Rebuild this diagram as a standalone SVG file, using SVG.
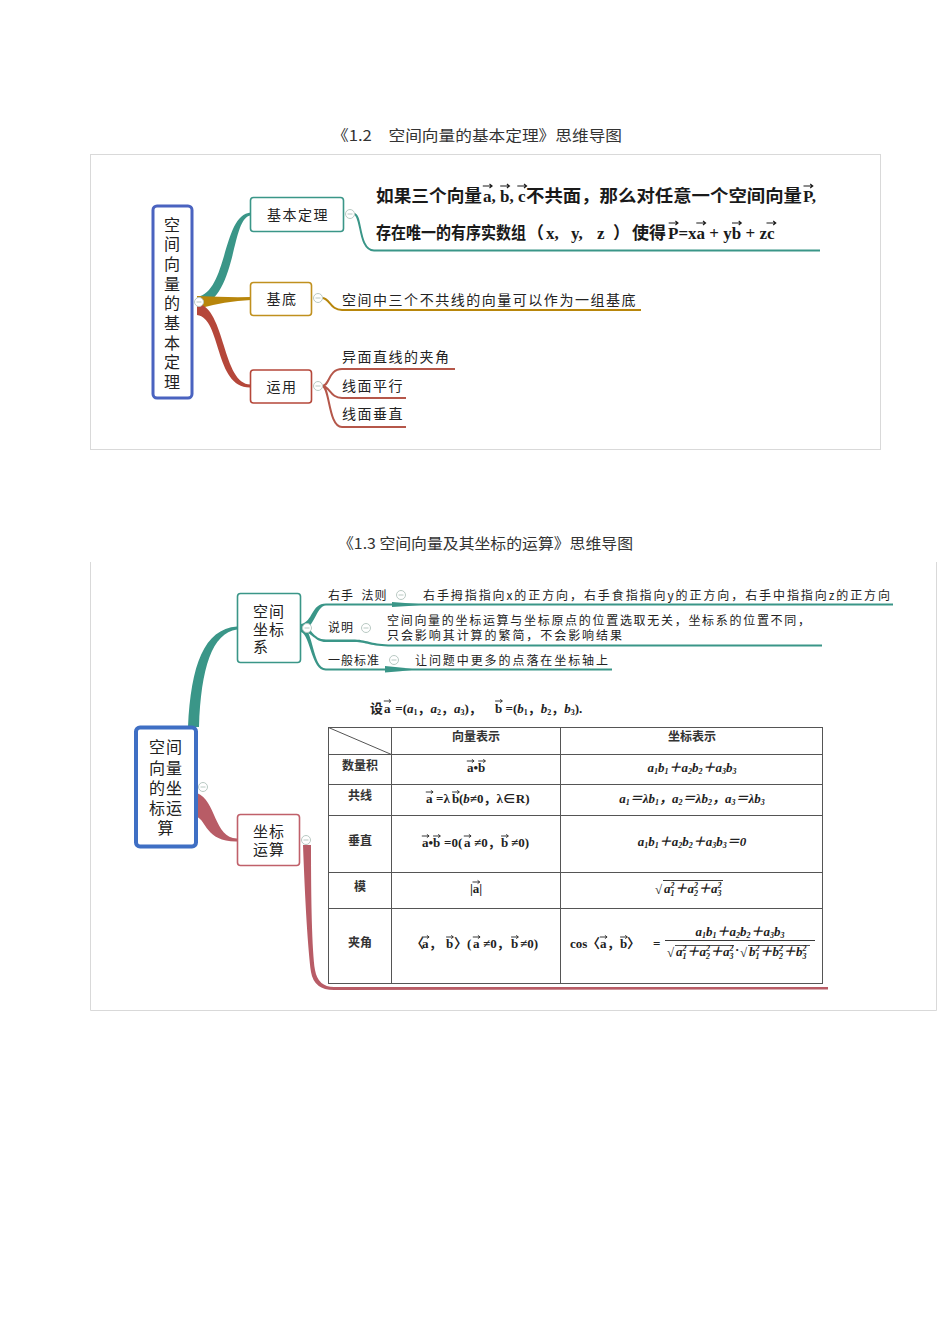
<svg xmlns="http://www.w3.org/2000/svg" width="950" height="1344" viewBox="0 0 950 1344">
<style>
.cn{font-family:"Noto Sans CJK SC","Noto Sans",sans-serif;fill:#222}
.tt{font-family:"Noto Sans CJK SC",sans-serif;font-size:15px;fill:#333}
.n14{font-size:14px;letter-spacing:1.5px}
.n15{font-size:15px;letter-spacing:1px}
.n16{font-size:16px}
.sm{font-size:12px}
.btn{fill:#fff;stroke:#b9c9c3;stroke-width:1}
.big{font-family:"Liberation Serif","Noto Sans CJK SC",serif;font-weight:bold;font-size:17px;fill:#1a1a1a}
.tb{font-family:"Liberation Serif","Noto Sans CJK SC",serif;font-weight:bold;font-size:13px;fill:#222}
.it{font-style:italic}
.s{font-size:8px}
.th{font-family:"Noto Sans CJK SC",sans-serif;font-weight:bold;font-size:12px;fill:#333}
.grid{stroke:#555;stroke-width:1;fill:none}
.frame{fill:none;stroke:#d9d9d9;stroke-width:1}
</style>
<defs>
<g id="btn"><circle r="4.5" class="btn"/><path d="M-2.5,0H2.5" stroke="#b9c9c3" stroke-width="1"/></g>
<path id="va" d="M-3.5,0H3.5M1.6,-1.6L3.8,0L1.6,1.6" fill="none" stroke="#222" stroke-width="0.9"/>
<path id="vb" d="M-4.5,0H4.5M2.2,-2L4.8,0L2.2,2" fill="none" stroke="#1a1a1a" stroke-width="1.1"/>
</defs>
<rect width="950" height="1344" fill="#fff"/>

<!-- ===== Diagram 1 ===== -->
<text class="tt" x="332" y="141" textLength="290" lengthAdjust="spacingAndGlyphs">《1.2　空间向量的基本定理》思维导图</text>
<rect class="frame" x="90.5" y="154.5" width="790" height="295"/>

<g id="connectors1">
<path d="M197,297 C228,292 222,214 251,212.5 L251,215.5 C230,217 238,300 197,307 Z" fill="#3a9688"/>
<path d="M197,296 Q225,297.5 251,297 L251,300 Q225,301 197,309 Z" fill="#b8860b"/>
<path d="M197,303 C226,308 222,385 251,384.5 L251,387.5 C214,389 222,318 197,315 Z" fill="#b5473a"/>
<path d="M354,214 C362,214 358,250.5 374,250.5 H820" fill="none" stroke="#3a9688" stroke-width="2"/>
<path d="M322,298 C330,298 330,310 342,310 H641" fill="none" stroke="#b8860b" stroke-width="2"/>
<path d="M322,386 C330,386 328,369 342,369 H455 M322,386 C330,386 330,398 342,398 H406 M322,386 C330,386 328,427 342,427 H406" fill="none" stroke="#b5574a" stroke-width="2"/>
<use href="#btn" x="199" y="302"/>
<use href="#btn" x="350" y="214"/>
<use href="#btn" x="318" y="298"/>
<use href="#btn" x="318" y="386"/>
</g>

<g id="root1">
<rect x="153" y="206" width="39" height="192" rx="4" fill="#fff" stroke="#4a63c0" stroke-width="3"/>
<text class="cn n16" text-anchor="middle"><tspan x="172" y="230.5">空</tspan><tspan x="172" y="250.2">间</tspan><tspan x="172" y="269.9">向</tspan><tspan x="172" y="289.6">量</tspan><tspan x="172" y="309.3">的</tspan><tspan x="172" y="329">基</tspan><tspan x="172" y="348.7">本</tspan><tspan x="172" y="368.4">定</tspan><tspan x="172" y="388.1">理</tspan></text>
</g>

<g id="node-jbdl">
<rect x="250.5" y="197.5" width="93" height="34" rx="3" fill="#fff" stroke="#3a9688" stroke-width="1.6"/>
<text class="cn n14" x="298" y="220" text-anchor="middle">基本定理</text>
</g>
<g id="node-jbdl-text">
<text class="big" x="376" y="202" textLength="106" lengthAdjust="spacingAndGlyphs">如果三个向量</text>
<text class="big" x="483" y="202">a, b, c</text>
<text class="big" x="526" y="202" textLength="276" lengthAdjust="spacingAndGlyphs">不共面，那么对任意一个空间向量</text>
<text class="big" x="803" y="202">P,</text>
<use href="#vb" x="487.3" y="186"/><use href="#vb" x="504.7" y="186"/><use href="#vb" x="521.8" y="186"/><use href="#vb" x="808" y="186"/>
<text class="big" x="376" y="239" textLength="150" lengthAdjust="spacingAndGlyphs">存在唯一的有序实数组</text>
<text class="big" y="239"><tspan x="527">（</tspan><tspan x="546">x,</tspan><tspan x="571">y,</tspan><tspan x="597">z</tspan><tspan x="613">）</tspan></text>
<text class="big" x="632" y="239" textLength="34" lengthAdjust="spacingAndGlyphs">使得</text>
<text class="big" x="668" y="239" xml:space="preserve">P=xa + yb + zc</text>
<use href="#vb" x="673.2" y="223"/><use href="#vb" x="700.8" y="223"/><use href="#vb" x="736.5" y="223"/><use href="#vb" x="771" y="223"/>
</g>

<g id="node-jd">
<rect x="250.5" y="282.5" width="61" height="33" rx="3" fill="#fff" stroke="#c0901e" stroke-width="1.6"/>
<text class="cn n14" x="282" y="304" text-anchor="middle">基底</text>
<text class="cn n14" x="342" y="305" textLength="295">空间中三个不共线的向量可以作为一组基底</text>
</g>

<g id="node-yy">
<rect x="250.5" y="370" width="61" height="33" rx="3" fill="#fff" stroke="#b5473a" stroke-width="1.6"/>
<text class="cn n14" x="282" y="392" text-anchor="middle">运用</text>
<text class="cn n14" x="342" y="362">异面直线的夹角</text>
<text class="cn n14" x="342" y="391">线面平行</text>
<text class="cn n14" x="342" y="419">线面垂直</text>
</g>

<!-- ===== Diagram 2 ===== -->
<text class="tt" x="338" y="549" textLength="295" lengthAdjust="spacingAndGlyphs">《1.3 空间向量及其坐标的运算》思维导图</text>
<path class="frame" d="M90.5,562 V1010.5 H936.5 V562"/>

<g id="connectors2">
<path d="M188,727 C191,665 204,629 237,626.5 L237,629.5 C212,633 201,668 199,727 Z" fill="#3a9688"/>
<path d="M197,793 C216,800 214,838 237,838.5 L237,841.5 C206,842 206,820 197,817 Z" fill="#b85c66"/>
<path d="M303,845 C305,900 308,950 311,972 Q314,990 334,990 L828,989.5 L828,987 L334,987 Q318,987 315,970 C312,950 311,900 311,845 Z" fill="#b85c66"/>
<path d="M301,624 C313,622 311,603.5 326,603.5 L893,603.5 L893,605.5 L326,605.5 C316,606 315,628 301,632 Z" fill="#3a9688"/>
<path d="M301,625 C312,626 312,639.5 326,639.5 L355,639.5 C368,640 372,644.5 392,644.5 L822,644.5 L822,646.5 L392,646.5 C370,646.5 366,642 355,642 L326,642 C314,642 313,632 301,631 Z" fill="#3a9688"/>
<path d="M301,625 C314,628 312,668.5 326,668.5 L612,668.5 L612,670.5 L326,670.5 C311,671 311,636 301,632 Z" fill="#3a9688"/>
<path d="M392,602 Q408,603 426,604.5 Q408,606 392,607 Z" fill="#3a9688"/>
<path d="M385,666 Q400,667 416,669.5 Q400,671.5 385,672.5 Z" fill="#3a9688"/>
<use href="#btn" x="203" y="787"/>
<use href="#btn" x="307" y="628"/>
<use href="#btn" x="306" y="840"/>
<use href="#btn" x="401" y="595"/>
<use href="#btn" x="366" y="628"/>
<use href="#btn" x="394" y="660"/>
</g>

<g id="root2">
<rect x="136" y="727.5" width="60" height="119" rx="4" fill="#fff" stroke="#3f6fc4" stroke-width="4"/>
<text class="cn n16" text-anchor="middle" letter-spacing="1"><tspan x="166" y="753">空间</tspan><tspan x="166" y="774">向量</tspan><tspan x="166" y="794">的坐</tspan><tspan x="166" y="814">标运</tspan><tspan x="166" y="834">算</tspan></text>
</g>

<g id="node-kjzbx">
<rect x="237.5" y="593.5" width="63" height="69" rx="3" fill="#fff" stroke="#3a9688" stroke-width="1.6"/>
<text class="cn n15"><tspan x="253" y="617">空间</tspan><tspan x="253" y="634.5">坐标</tspan><tspan x="253" y="652">系</tspan></text>
</g>
<g id="node-yszf">
<text class="cn sm" x="328" y="600" letter-spacing="1" xml:space="preserve">右手  法则</text>
<text class="cn sm" x="423" y="600" textLength="467">右手拇指指向x的正方向，右手食指指向y的正方向，右手中指指向z的正方向</text>
</g>
<g id="node-sm">
<text class="cn sm" x="328" y="632" letter-spacing="1">说明</text>
<text class="cn sm" x="387" y="625" textLength="423">空间向量的坐标运算与坐标原点的位置选取无关，坐标系的位置不同，</text>
<text class="cn sm" x="387" y="640" textLength="235">只会影响其计算的繁简，不会影响结果</text>
</g>
<g id="node-ybbz">
<text class="cn sm" x="328" y="665" letter-spacing="1">一般标准</text>
<text class="cn sm" x="415" y="665" textLength="193">让问题中更多的点落在坐标轴上</text>
</g>

<g id="node-zbys">
<rect x="237.5" y="814.5" width="62" height="51" rx="3" fill="#fff" stroke="#c0606a" stroke-width="1.6"/>
<text class="cn n15"><tspan x="253" y="837">坐标</tspan><tspan x="253" y="855">运算</tspan></text>
</g>

<g id="table">
<text class="tb" y="713"><tspan x="370">设</tspan><tspan x="384">a</tspan><tspan x="392" xml:space="preserve"> =(</tspan><tspan class="it">a</tspan><tspan class="s" dy="2">1</tspan><tspan dy="-2">，</tspan><tspan class="it">a</tspan><tspan class="s" dy="2">2</tspan><tspan dy="-2">，</tspan><tspan class="it">a</tspan><tspan class="s" dy="2">3</tspan><tspan dy="-2">)，</tspan><tspan x="495">b</tspan><tspan xml:space="preserve"> =(</tspan><tspan class="it">b</tspan><tspan class="s" dy="2">1</tspan><tspan dy="-2">，</tspan><tspan class="it">b</tspan><tspan class="s" dy="2">2</tspan><tspan dy="-2">，</tspan><tspan class="it">b</tspan><tspan class="s" dy="2">3</tspan><tspan dy="-2">).</tspan></text>
<use href="#va" x="387.3" y="701"/><use href="#va" x="498.6" y="701"/>

<rect class="grid" x="328.5" y="727.5" width="494" height="256"/>
<path class="grid" d="M391.5,727.5V983.5M560.5,727.5V983.5M328.5,754.5H822.5M328.5,784.5H822.5M328.5,815.5H822.5M328.5,872.5H822.5M328.5,908.5H822.5M328.5,727.5L391.5,754.5"/>

<text class="th" x="476" y="741" text-anchor="middle">向量表示</text>
<text class="th" x="692" y="741" text-anchor="middle">坐标表示</text>

<text class="th" x="360" y="770" text-anchor="middle">数量积</text>
<text class="th" x="360" y="800" text-anchor="middle">共线</text>
<text class="th" x="360" y="845" text-anchor="middle">垂直</text>
<text class="th" x="360" y="891" text-anchor="middle">模</text>
<text class="th" x="360" y="947" text-anchor="middle">夹角</text>

<!-- row 1 -->
<text class="tb" x="467" y="772">a•b</text>
<use href="#va" x="470.3" y="761"/><use href="#va" x="481.7" y="761"/>
<text class="tb it" x="692" y="772" text-anchor="middle">a<tspan class="s" dy="2">1</tspan><tspan dy="-2">b</tspan><tspan class="s" dy="2">1</tspan><tspan dy="-2">＋a</tspan><tspan class="s" dy="2">2</tspan><tspan dy="-2">b</tspan><tspan class="s" dy="2">2</tspan><tspan dy="-2">＋a</tspan><tspan class="s" dy="2">3</tspan><tspan dy="-2">b</tspan><tspan class="s" dy="2">3</tspan></text>

<!-- row 2 -->
<text class="tb" y="803"><tspan x="426">a</tspan><tspan x="436">=λ</tspan><tspan x="452">b</tspan><tspan x="459">(</tspan><tspan class="it">b</tspan><tspan>≠0，λ∈R)</tspan></text>
<use href="#va" x="429.3" y="792"/><use href="#va" x="455.6" y="792"/>
<text class="tb it" x="692" y="803" text-anchor="middle">a<tspan class="s" dy="2">1</tspan><tspan dy="-2">＝λb</tspan><tspan class="s" dy="2">1</tspan><tspan dy="-2">，a</tspan><tspan class="s" dy="2">2</tspan><tspan dy="-2">＝λb</tspan><tspan class="s" dy="2">2</tspan><tspan dy="-2">，a</tspan><tspan class="s" dy="2">3</tspan><tspan dy="-2">＝λb</tspan><tspan class="s" dy="2">3</tspan></text>

<!-- row 3 -->
<text class="tb" y="847"><tspan x="422">a•b</tspan><tspan x="444">=0(</tspan><tspan x="464">a</tspan><tspan x="474">≠0，</tspan><tspan x="501">b</tspan><tspan x="511">≠0)</tspan></text>
<use href="#va" x="425.3" y="836"/><use href="#va" x="436.6" y="836"/><use href="#va" x="467.3" y="836"/><use href="#va" x="504.6" y="836"/>
<text class="tb it" x="692" y="846" text-anchor="middle">a<tspan class="s" dy="2">1</tspan><tspan dy="-2">b</tspan><tspan class="s" dy="2">1</tspan><tspan dy="-2">＋a</tspan><tspan class="s" dy="2">2</tspan><tspan dy="-2">b</tspan><tspan class="s" dy="2">2</tspan><tspan dy="-2">＋a</tspan><tspan class="s" dy="2">3</tspan><tspan dy="-2">b</tspan><tspan class="s" dy="2">3</tspan><tspan dy="-2">＝0</tspan></text>

<!-- row 4 -->
<text class="tb" x="476" y="893" text-anchor="middle">|a|</text>
<use href="#va" x="476" y="882"/>
<text class="tb" x="655" y="894" font-weight="normal">√</text>
<path d="M663,880.5H723" stroke="#222" stroke-width="0.9"/>
<text class="tb it" x="664" y="893">a<tspan class="s" dy="-5">2</tspan><tspan class="s" dx="-4" dy="8">1</tspan><tspan dy="-3">＋a</tspan><tspan class="s" dy="-5">2</tspan><tspan class="s" dx="-4" dy="8">2</tspan><tspan dy="-3">＋a</tspan><tspan class="s" dy="-5">2</tspan><tspan class="s" dx="-4" dy="8">3</tspan></text>

<!-- row 5 -->
<text class="tb" y="948"><tspan x="411">〈</tspan><tspan x="422">a</tspan><tspan x="429">，</tspan><tspan x="446">b</tspan><tspan x="454">〉(</tspan><tspan x="473">a</tspan><tspan x="483">≠0，</tspan><tspan x="511">b</tspan><tspan x="520">≠0)</tspan></text>
<use href="#va" x="425.3" y="937"/><use href="#va" x="449.6" y="937"/><use href="#va" x="476.3" y="937"/><use href="#va" x="514.6" y="937"/>
<text class="tb" y="948"><tspan x="570">cos</tspan><tspan x="587">〈</tspan><tspan x="600">a</tspan><tspan x="607">，</tspan><tspan x="620">b</tspan><tspan x="627">〉</tspan><tspan x="653">=</tspan></text>
<use href="#va" x="603.3" y="937"/><use href="#va" x="623.6" y="937"/>
<text class="tb it" x="740" y="936" text-anchor="middle" font-size="12">a<tspan class="s" dy="2">1</tspan><tspan dy="-2">b</tspan><tspan class="s" dy="2">1</tspan><tspan dy="-2">＋a</tspan><tspan class="s" dy="2">2</tspan><tspan dy="-2">b</tspan><tspan class="s" dy="2">2</tspan><tspan dy="-2">＋a</tspan><tspan class="s" dy="2">3</tspan><tspan dy="-2">b</tspan><tspan class="s" dy="2">3</tspan></text>
<path d="M665,940.5H815" stroke="#222" stroke-width="0.9"/>
<text class="tb" x="667" y="957" font-weight="normal" font-size="12">√</text>
<path d="M675,945.5H734" stroke="#222" stroke-width="0.8"/>
<text class="tb it" x="676" y="956" font-size="12">a<tspan class="s" dy="-5">2</tspan><tspan class="s" dx="-4" dy="8">1</tspan><tspan dy="-3">＋a</tspan><tspan class="s" dy="-5">2</tspan><tspan class="s" dx="-4" dy="8">2</tspan><tspan dy="-3">＋a</tspan><tspan class="s" dy="-5">2</tspan><tspan class="s" dx="-4" dy="8">3</tspan></text>
<text class="tb" x="735" y="954" font-size="12">·</text>
<text class="tb" x="740" y="957" font-weight="normal" font-size="12">√</text>
<path d="M748,945.5H810" stroke="#222" stroke-width="0.8"/>
<text class="tb it" x="749" y="956" font-size="12">b<tspan class="s" dy="-5">2</tspan><tspan class="s" dx="-4" dy="8">1</tspan><tspan dy="-3">＋b</tspan><tspan class="s" dy="-5">2</tspan><tspan class="s" dx="-4" dy="8">2</tspan><tspan dy="-3">＋b</tspan><tspan class="s" dy="-5">2</tspan><tspan class="s" dx="-4" dy="8">3</tspan></text>
</g>
</svg>
